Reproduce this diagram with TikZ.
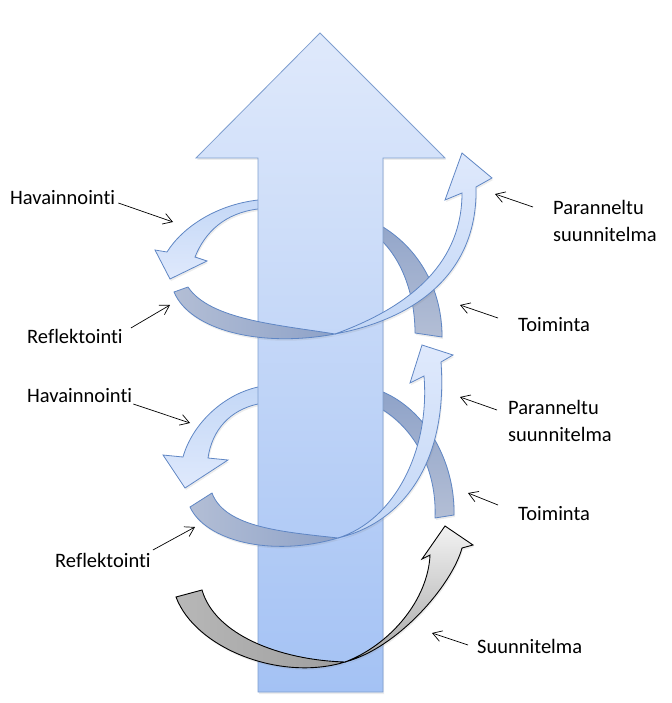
\documentclass[tikz,border=0pt]{standalone}
\usepackage{fontspec}
\setmainfont[Ligatures=NoCommon]{Carlito}
\usetikzlibrary{arrows.meta, shadows}

\definecolor{shafttop}{HTML}{DFE9FB}
\definecolor{shaftbot}{HTML}{A4C2F4}
\definecolor{shaftline}{HTML}{7E9ECF}
\definecolor{loopline}{HTML}{5F86C4}
\definecolor{looplight}{HTML}{C3D7F6}
\definecolor{looppale}{HTML}{DFE9FC}
\definecolor{loopdark}{HTML}{8EA2C8}
\definecolor{loopgray}{HTML}{B3BED5}

\tikzset{
  lbl/.style={anchor=base west, inner sep=0pt, font=\fontsize{20.5}{27}\selectfont, align=left},
  callout/.style={-{Straight Barb[length=9pt,width=11pt]}, line width=0.7pt},
  soft/.style={drop shadow={shadow xshift=1pt, shadow yshift=-2pt, opacity=0.15}},
  shaft/.style={draw=shaftline, line width=0.8pt, top color=shafttop, bottom color=shaftbot, soft},
  light loop/.style={draw=loopline, line width=0.8pt, top color=looplight, bottom color=looppale, soft},
  dark loop/.style={draw=loopline, line width=0.8pt, top color=loopdark, bottom color=loopgray, soft},
  back band/.style={draw=loopline, line width=0.8pt, left color=loopgray, right color=loopdark, soft},
  front band/.style={draw=loopline, line width=0.8pt, bottom color=looplight, top color=looppale, soft},
  gray back/.style={draw=black, line width=0.9pt, left color=black!28, right color=black!38, soft},
  gray front/.style={draw=black, line width=0.9pt, bottom color=black!35, top color=black!5, soft}
}

\begin{document}
\begin{tikzpicture}[x=1pt,y=-1pt]
\useasboundingbox (0,0) rectangle (671,703);

%loops that pass behind the big arrow
\draw[light loop] (320,196) -- (258,200) .. controls (215,205) and (182,228) .. (167,252) -- (155,250) -- (170,279) -- (207,261) -- (195,257) .. controls (205,232) and (225,213) .. (258,209) -- (320,207) -- cycle;
\draw[dark loop] (320,208) -- (383,227) .. controls (420,250) and (442,290) .. (442,337) -- (415,333) .. controls (415,300) and (405,265) .. (383,242) -- (320,220) -- cycle;

\draw[light loop] (320,384) -- (258,387) .. controls (222,395) and (192,425) .. (183,457) -- (163,455) -- (185,488) -- (228,460) -- (208,458) .. controls (212,430) and (230,410) .. (258,404) -- (320,400) -- cycle;
\draw[dark loop] (320,388) -- (383,392) .. controls (425,410) and (455,460) .. (454,515) -- (435,518) .. controls (437,470) and (415,430) .. (383,410) -- (320,404) -- cycle;

%big arrow
\draw[shaft] (320,33) -- (445,158) -- (383,158) -- (383,692) -- (258,692) -- (258,158) -- (196,158) -- cycle;

%twisted arrows in front
\draw[back band] (174,292) .. controls (190,330) and (260,348) .. (335,334) .. controls (280,325) and (210,320) .. (188,287) -- cycle;
\draw[front band] (335,334) .. controls (420,318) and (478,270) .. (476,187) -- (492,178) -- (462,153) -- (445,200) -- (462,193) .. controls (462,260) and (415,305) .. (335,334) -- cycle;

\draw[back band] (190,507) .. controls (205,540) and (270,558) .. (338,538) .. controls (285,532) and (225,528) .. (212,493) -- cycle;
\draw[front band] (338,538) .. controls (405,522) and (448,460) .. (441,362) -- (453,355) -- (422,345) -- (410,383) -- (424,376) .. controls (430,450) and (395,520) .. (338,538) -- cycle;

\draw[gray back] (176,597) .. controls (195,648) and (280,682) .. (345,662) .. controls (280,660) and (215,635) .. (202,590) -- cycle;
\draw[gray front] (345,662) .. controls (398,648) and (452,585) .. (462,548) -- (473,545) -- (445,526) -- (422,559) -- (430,555) .. controls (428,600) and (390,645) .. (345,662) -- cycle;

%labels
\node[lbl] (hav1) at (10,205) {Havainnointi};
\node[lbl] (ref1) at (27,343) {Reflektointi};
\node[lbl] (par1) at (553,241) {Paranneltu\\suunnitelma};
\node[lbl] (toi1) at (518,331) {Toiminta};
\node[lbl] (hav2) at (27,402) {Havainnointi};
\node[lbl] (ref2) at (55,567) {Reflektointi};
\node[lbl] (par2) at (508,441) {Paranneltu\\suunnitelma};
\node[lbl] (toi2) at (518,520) {Toiminta};
\node[lbl] (suu) at (477,653) {Suunnitelma};

\coordinate (hav1tip) at (173,222);
\coordinate (ref1tip) at (170,305);
\coordinate (par1tip) at (495,194);
\coordinate (toi1tip) at (460,305);
\coordinate (hav2tip) at (190,423);
\coordinate (ref2tip) at (195,527);
\coordinate (par2tip) at (460,397);
\coordinate (toi2tip) at (468,493);
\coordinate (suutip) at (432,633);

\draw[callout] ([xshift=3pt,yshift=2pt]hav1.base east) -- (hav1tip);
\draw[callout] ([xshift=8pt,yshift=15pt]ref1.base east) -- (ref1tip);
\draw[callout] ([xshift=-20pt,yshift=34pt]par1.base west) -- (par1tip);
\draw[callout] ([xshift=-20pt,yshift=13pt]toi1.base west) -- (toi1tip);
\draw[callout] ([xshift=1pt,yshift=-2pt]hav2.base east) -- (hav2tip);
\draw[callout] ([xshift=2pt,yshift=17pt]ref2.base east) -- (ref2tip);
\draw[callout] ([xshift=-11pt,yshift=31pt]par2.base west) -- (par2tip);
\draw[callout] ([xshift=-20pt,yshift=15pt]toi2.base west) -- (toi2tip);
\draw[callout] ([xshift=-9pt,yshift=8pt]suu.base west) -- (suutip);

\end{tikzpicture}
\end{document}
